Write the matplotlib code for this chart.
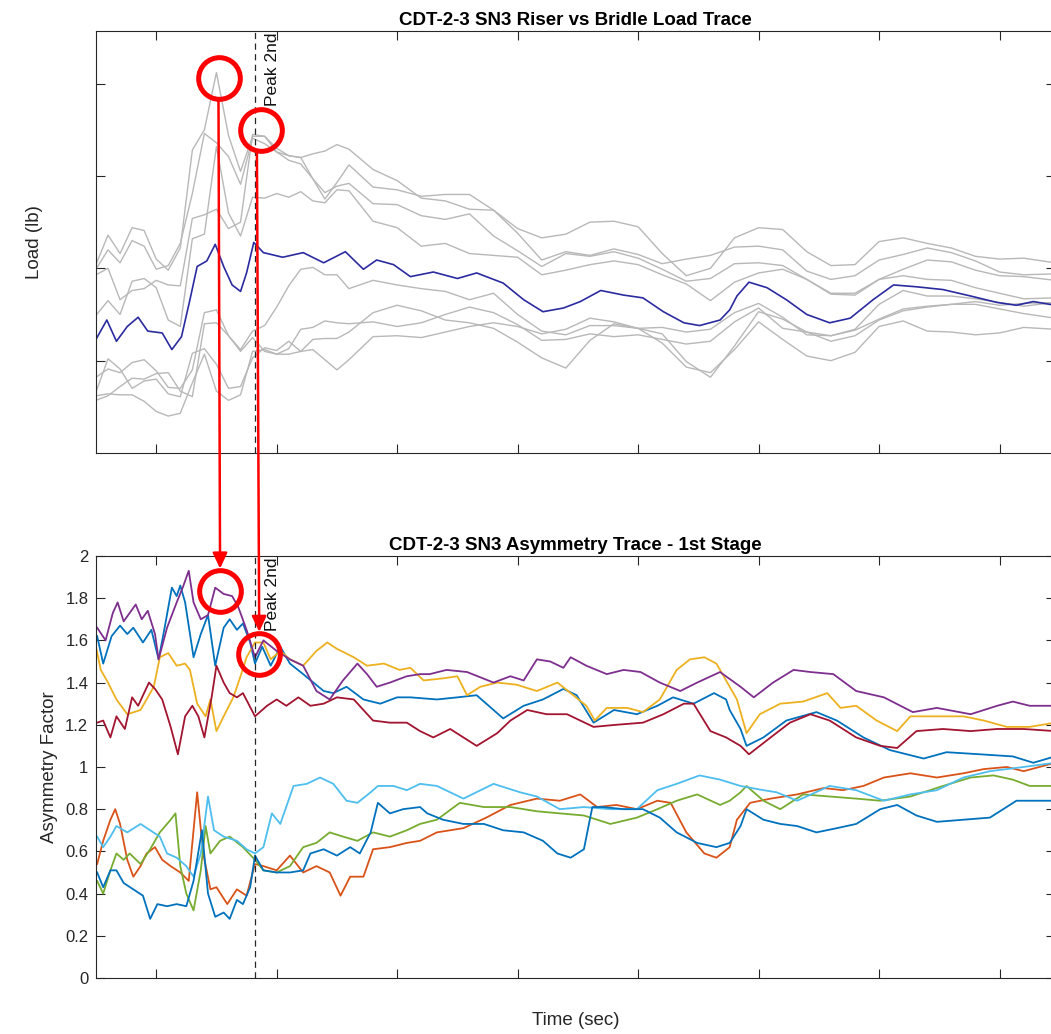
import matplotlib
matplotlib.use("Agg")
import matplotlib.pyplot as plt
from matplotlib.patches import ConnectionPatch
from matplotlib.ticker import FormatStrFormatter

plt.rcParams['font.family'] = ['Liberation Sans', 'DejaVu Sans']

# ---- top plot: riser / bridle loads (gray) on a common time grid
T = [-0.5, -0.4, -0.3, -0.2, -0.1, 0.0, 0.1, 0.2, 0.3, 0.4, 0.5, 0.6, 0.7, 0.8, 0.9, 1.0, 1.1, 1.2, 1.3, 1.4, 1.5, 1.6,
     1.8, 2.0, 2.2, 2.4, 2.6, 2.8, 3.0, 3.2, 3.4, 3.6, 3.8, 4.0, 4.2, 4.4, 4.6, 4.8, 5.0, 5.2, 5.4, 5.6, 5.8, 6.0,
     6.2, 6.4, 6.6, 6.8, 7.0, 7.2, 7.46]
load_a = [2.04, 2.36, 2.16, 2.44, 2.41, 2.10, 1.98, 2.22, 3.28, 3.50, 4.12, 3.44, 3.05, 3.43, 3.43, 3.30, 3.22, 3.20, 2.97, 2.75, 2.93, 3.12,
          2.88, 2.85, 2.78, 2.80, 2.80, 2.63, 2.43, 2.33, 2.37, 2.50, 2.51, 2.45, 2.16, 1.92, 2.00, 2.33, 2.44, 2.42, 2.18, 2.03, 2.04, 2.29,
          2.33, 2.27, 2.22, 2.13, 2.10, 2.11, 2.06]
load_b = [1.99, 2.20, 2.06, 2.30, 2.24, 1.99, 2.03, 2.27, 2.81, 3.46, 3.36, 3.21, 2.91, 3.41, 3.35, 3.26, 3.17, 3.13, 2.97, 2.82, 2.89, 2.92,
          2.70, 2.69, 2.57, 2.53, 2.59, 2.35, 2.19, 2.02, 2.16, 2.13, 2.18, 2.11, 1.99, 1.86, 1.89, 2.05, 2.06, 2.03, 1.88, 1.73, 1.73, 1.88,
          1.92, 1.88, 1.87, 1.79, 1.73, 1.67, 1.68]
load_c = [1.93, 2.00, 1.66, 1.76, 1.78, 1.87, 1.82, 1.81, 2.54, 2.58, 2.64, 2.43, 2.50, 3.45, 3.43, 3.26, 3.22, 3.20, 3.24, 3.27, 3.34, 3.29,
          3.07, 2.95, 2.76, 2.73, 2.64, 2.63, 2.38, 2.09, 2.18, 2.14, 2.21, 2.15, 2.05, 2.10, 2.14, 2.23, 2.24, 2.20, 1.97, 1.88, 1.92, 2.09,
          2.15, 2.22, 2.17, 2.08, 1.96, 1.93, 1.94]
load_d = [1.49, 1.65, 1.50, 1.86, 1.89, 1.79, 1.44, 1.37, 2.32, 2.37, 3.32, 2.60, 2.35, 2.77, 2.76, 2.81, 2.77, 2.83, 2.73, 2.71, 2.85, 2.84,
          2.51, 2.44, 2.24, 2.27, 2.16, 2.14, 2.12, 1.93, 1.98, 2.04, 2.08, 2.04, 1.93, 1.83, 1.65, 1.85, 1.95, 1.99, 1.88, 1.72, 1.71, 1.88,
          1.99, 2.09, 2.07, 1.98, 1.92, 1.91, 1.87]
load_e = [0.82, 0.91, 0.87, 0.98, 1.01, 0.89, 0.71, 0.70, 0.90, 1.52, 1.55, 1.27, 1.12, 1.32, 1.38, 1.58, 1.81, 1.99, 2.01, 1.93, 1.93, 1.78,
          1.87, 1.82, 1.78, 1.75, 1.66, 1.73, 1.50, 1.32, 1.28, 1.38, 1.38, 1.35, 1.36, 1.31, 1.34, 1.52, 1.62, 1.47, 1.28, 1.27, 1.33, 1.45,
          1.56, 1.59, 1.61, 1.64, 1.60, 1.62, 1.63]
load_f = [0.62, 0.64, 0.63, 0.63, 0.56, 0.45, 0.40, 0.43, 0.76, 1.07, 0.67, 0.57, 0.63, 1.10, 1.12, 1.07, 1.07, 1.10, 1.23, 1.24, 1.24, 1.31,
          1.52, 1.60, 1.54, 1.44, 1.41, 1.35, 1.20, 1.03, 0.92, 1.22, 1.40, 1.35, 1.19, 0.93, 0.87, 1.12, 1.42, 1.23, 1.05, 1.00, 1.09, 1.37,
          1.43, 1.32, 1.31, 1.28, 1.30, 1.36, 1.34]
load_g = [0.66, 1.02, 0.91, 0.70, 0.78, 0.80, 0.64, 0.61, 1.08, 1.13, 0.96, 0.70, 0.72, 1.03, 1.14, 1.11, 1.21, 1.10, 1.12, 1.01, 0.90, 1.01,
          1.26, 1.27, 1.25, 1.31, 1.37, 1.41, 1.37, 1.29, 1.34, 1.46, 1.42, 1.35, 1.29, 0.99, 0.82, 1.16, 1.53, 1.45, 1.31, 1.27, 1.34, 1.61,
          1.76, 1.70, 1.70, 1.67, 1.63, 1.59, 1.63]
load_h = [0.57, 0.62, 0.72, 0.81, 0.80, 0.86, 0.87, 0.67, 0.61, 1.40, 1.41, 1.27, 1.10, 1.25, 1.10, 1.07, 1.13, 1.34, 1.36, 1.43, 1.41, 1.40,
          1.42, 1.37, 1.41, 1.50, 1.58, 1.52, 1.39, 1.22, 1.23, 1.29, 1.26, 1.28, 1.23, 1.18, 1.21, 1.42, 1.57, 1.35, 1.31, 1.21, 1.27, 1.44,
          1.54, 1.58, 1.61, 1.61, 1.56, 1.51, 1.46]

# mean load (blue)
t_mean = [-0.50, -0.41, -0.33, -0.24, -0.15, -0.07, 0.05, 0.13, 0.21, 0.28, 0.34, 0.42, 0.49, 0.56, 0.63, 0.70, 0.75, 0.81, 0.89, 1.05,
          1.22, 1.39, 1.57, 1.72, 1.83, 1.97, 2.11, 2.30, 2.50, 2.66, 2.88, 3.05, 3.21, 3.38, 3.52, 3.69, 3.88, 4.04, 4.21, 4.38, 4.51,
          4.68, 4.76, 4.82, 4.92, 5.07, 5.23, 5.40, 5.59, 5.76, 5.95, 6.12, 6.31, 6.53, 6.76, 6.98, 7.14, 7.28, 7.46]
load_mean = [1.23, 1.44, 1.21, 1.37, 1.47, 1.32, 1.30, 1.12, 1.26, 1.66, 2.02, 2.08, 2.26, 2.02, 1.82, 1.75, 1.95, 2.28, 2.17, 2.12,
             2.17, 2.06, 2.18, 1.99, 2.09, 2.04, 1.91, 1.96, 1.89, 1.95, 1.84, 1.66, 1.53, 1.57, 1.64, 1.76, 1.71, 1.68, 1.53, 1.41, 1.38,
             1.44, 1.55, 1.70, 1.85, 1.79, 1.66, 1.50, 1.41, 1.46, 1.66, 1.82, 1.80, 1.77, 1.70, 1.63, 1.60, 1.64, 1.60]

# ---- bottom plot: asymmetry factor per channel
t_purple = [-0.49, -0.42, -0.36, -0.32, -0.27, -0.17, -0.12, -0.07, -0.01, 0.02, 0.09, 0.17, 0.22, 0.27, 0.31, 0.37, 0.43, 0.49, 0.56,
            0.63, 0.68, 0.75, 0.82, 0.89, 1.00, 1.11, 1.22, 1.33, 1.44, 1.55, 1.67, 1.75, 1.83, 1.94, 2.08, 2.19, 2.27, 2.41, 2.58, 2.80,
            2.94, 3.05, 3.16, 3.27, 3.38, 3.44, 3.57, 3.74, 3.88, 4.02, 4.18, 4.35, 4.49, 4.68, 4.85, 4.96, 5.12, 5.29, 5.43, 5.62, 5.81,
            6.04, 6.28, 6.48, 6.76, 6.98, 7.11, 7.25, 7.46]
asym_purple = [1.66, 1.60, 1.73, 1.78, 1.69, 1.77, 1.70, 1.74, 1.63, 1.51, 1.66, 1.78, 1.85, 1.93, 1.78, 1.70, 1.72, 1.85, 1.82,
               1.81, 1.76, 1.65, 1.52, 1.60, 1.55, 1.51, 1.48, 1.36, 1.32, 1.41, 1.49, 1.44, 1.38, 1.40, 1.43, 1.44, 1.44, 1.46, 1.45, 1.40,
               1.43, 1.41, 1.51, 1.50, 1.47, 1.52, 1.48, 1.44, 1.46, 1.45, 1.40, 1.36, 1.40, 1.45, 1.38, 1.33, 1.40, 1.46, 1.45, 1.44, 1.36,
               1.33, 1.26, 1.28, 1.25, 1.29, 1.31, 1.29, 1.29]

t_blue_hi = [-0.49, -0.44, -0.37, -0.30, -0.24, -0.19, -0.11, -0.04, 0.02, 0.07, 0.13, 0.17, 0.20, 0.24, 0.31, 0.37, 0.43, 0.49, 0.56,
             0.61, 0.67, 0.72, 0.78, 0.82, 0.88, 0.95, 1.03, 1.11, 1.22, 1.39, 1.47, 1.58, 1.72, 1.86, 2.00, 2.11, 2.33, 2.50, 2.66, 2.88,
             3.05, 3.21, 3.38, 3.49, 3.63, 3.80, 3.99, 4.16, 4.29, 4.46, 4.63, 4.73, 4.76, 4.85, 4.90, 5.04, 5.23, 5.48, 5.65, 5.87, 6.09,
             6.37, 6.56, 6.84, 7.11, 7.28, 7.46]
asym_blue_hi = [1.62, 1.49, 1.62, 1.67, 1.63, 1.66, 1.59, 1.65, 1.51, 1.66, 1.85, 1.81, 1.86, 1.78, 1.52, 1.63, 1.72, 1.48, 1.66,
                1.70, 1.65, 1.68, 1.59, 1.49, 1.57, 1.48, 1.57, 1.49, 1.44, 1.36, 1.35, 1.38, 1.32, 1.30, 1.33, 1.33, 1.32, 1.33, 1.34, 1.23,
                1.29, 1.32, 1.37, 1.34, 1.21, 1.27, 1.25, 1.29, 1.33, 1.30, 1.35, 1.32, 1.27, 1.18, 1.10, 1.14, 1.22, 1.26, 1.22, 1.14, 1.08,
                1.04, 1.07, 1.06, 1.05, 1.02, 1.05]

t_yellow = [-0.50, -0.46, -0.40, -0.33, -0.24, -0.13, -0.02, 0.03, 0.10, 0.17, 0.24, 0.28, 0.34, 0.41, 0.45, 0.50, 0.56, 0.64, 0.70,
            0.75, 0.82, 0.89, 0.95, 1.03, 1.11, 1.22, 1.33, 1.42, 1.50, 1.64, 1.75, 1.89, 2.02, 2.11, 2.22, 2.38, 2.50, 2.58, 2.69, 2.83,
            2.99, 3.16, 3.33, 3.44, 3.57, 3.64, 3.74, 3.91, 4.04, 4.18, 4.32, 4.43, 4.55, 4.65, 4.76, 4.82, 4.90, 5.01, 5.18, 5.37, 5.57,
            5.68, 5.81, 5.98, 6.15, 6.26, 6.48, 6.70, 6.87, 7.06, 7.25, 7.46]
asym_yellow = [1.57, 1.46, 1.40, 1.32, 1.25, 1.27, 1.38, 1.52, 1.54, 1.48, 1.49, 1.46, 1.30, 1.24, 1.32, 1.17, 1.24, 1.33, 1.43,
               1.52, 1.59, 1.59, 1.51, 1.55, 1.51, 1.48, 1.55, 1.59, 1.56, 1.52, 1.48, 1.49, 1.46, 1.47, 1.41, 1.42, 1.43, 1.34, 1.38, 1.40,
               1.39, 1.36, 1.40, 1.35, 1.29, 1.22, 1.28, 1.28, 1.26, 1.32, 1.46, 1.51, 1.52, 1.49, 1.38, 1.32, 1.16, 1.25, 1.30, 1.31, 1.35,
               1.28, 1.29, 1.22, 1.17, 1.24, 1.24, 1.24, 1.22, 1.19, 1.19, 1.21]

t_darkred = [-0.49, -0.44, -0.38, -0.33, -0.26, -0.20, -0.15, -0.06, -0.01, 0.05, 0.12, 0.18, 0.24, 0.30, 0.35, 0.40, 0.46, 0.50, 0.56,
             0.61, 0.67, 0.72, 0.82, 0.92, 1.00, 1.08, 1.18, 1.28, 1.39, 1.50, 1.64, 1.80, 1.94, 2.08, 2.19, 2.30, 2.44, 2.66, 2.83, 2.94,
             3.08, 3.24, 3.41, 3.63, 3.82, 4.04, 4.21, 4.38, 4.46, 4.60, 4.73, 4.85, 4.92, 5.10, 5.26, 5.43, 5.59, 5.81, 6.01, 6.15, 6.31,
             6.53, 6.76, 6.98, 7.20, 7.46]
asym_darkred = [1.21, 1.22, 1.14, 1.24, 1.18, 1.33, 1.29, 1.40, 1.37, 1.32, 1.19, 1.06, 1.24, 1.29, 1.24, 1.14, 1.33, 1.48, 1.40,
                1.35, 1.33, 1.35, 1.24, 1.29, 1.32, 1.29, 1.33, 1.29, 1.30, 1.33, 1.32, 1.22, 1.21, 1.21, 1.17, 1.14, 1.18, 1.10, 1.16, 1.22,
                1.27, 1.25, 1.25, 1.19, 1.20, 1.21, 1.25, 1.30, 1.30, 1.17, 1.14, 1.10, 1.06, 1.14, 1.21, 1.25, 1.22, 1.14, 1.10, 1.09, 1.17,
                1.18, 1.17, 1.18, 1.18, 1.17]

t_cyan = [-0.49, -0.44, -0.38, -0.33, -0.24, -0.13, -0.05, 0.03, 0.09, 0.17, 0.25, 0.31, 0.37, 0.43, 0.48, 0.56, 0.67, 0.75, 0.82,
          0.89, 0.96, 1.03, 1.14, 1.25, 1.36, 1.47, 1.58, 1.67, 1.78, 1.84, 1.97, 2.08, 2.19, 2.33, 2.55, 2.80, 3.02, 3.16, 3.35, 3.55,
          3.77, 3.99, 4.16, 4.32, 4.51, 4.68, 4.85, 5.04, 5.15, 5.32, 5.59, 5.81, 6.04, 6.26, 6.48, 6.70, 6.92, 7.20, 7.46]
asym_cyan = [0.67, 0.62, 0.67, 0.72, 0.69, 0.73, 0.70, 0.67, 0.59, 0.57, 0.53, 0.48, 0.59, 0.86, 0.70, 0.67, 0.65, 0.61, 0.59,
             0.62, 0.78, 0.73, 0.91, 0.92, 0.95, 0.92, 0.84, 0.83, 0.88, 0.91, 0.91, 0.89, 0.92, 0.91, 0.85, 0.92, 0.88, 0.86, 0.80, 0.81,
             0.80, 0.80, 0.89, 0.92, 0.96, 0.94, 0.91, 0.89, 0.88, 0.84, 0.91, 0.89, 0.84, 0.87, 0.89, 0.95, 0.98, 1.00, 1.02]

t_blue_lo = [-0.49, -0.44, -0.38, -0.33, -0.27, -0.19, -0.11, -0.05, 0.01, 0.09, 0.17, 0.25, 0.31, 0.38, 0.43, 0.49, 0.56, 0.61, 0.67,
             0.72, 0.78, 0.82, 0.89, 1.00, 1.11, 1.22, 1.28, 1.39, 1.50, 1.61, 1.69, 1.78, 1.84, 1.94, 2.05, 2.19, 2.25, 2.38, 2.55, 2.72,
             2.88, 3.05, 3.21, 3.33, 3.44, 3.55, 3.62, 3.71, 3.88, 4.04, 4.18, 4.32, 4.49, 4.65, 4.76, 4.85, 4.90, 5.04, 5.18, 5.32, 5.48,
             5.65, 5.81, 6.01, 6.15, 6.31, 6.48, 6.70, 6.92, 7.14, 7.31, 7.46]
asym_blue_lo = [0.50, 0.43, 0.51, 0.51, 0.45, 0.42, 0.39, 0.28, 0.35, 0.34, 0.35, 0.34, 0.46, 0.70, 0.40, 0.29, 0.31, 0.28, 0.37,
                0.35, 0.43, 0.58, 0.51, 0.50, 0.50, 0.51, 0.59, 0.61, 0.58, 0.62, 0.59, 0.69, 0.83, 0.78, 0.80, 0.81, 0.78, 0.75, 0.73, 0.73,
                0.70, 0.69, 0.65, 0.59, 0.57, 0.61, 0.81, 0.81, 0.80, 0.80, 0.76, 0.69, 0.64, 0.62, 0.64, 0.72, 0.80, 0.75, 0.73, 0.72, 0.69,
                0.71, 0.73, 0.80, 0.82, 0.77, 0.74, 0.75, 0.76, 0.84, 0.84, 0.84]

t_orange = [-0.49, -0.44, -0.38, -0.34, -0.30, -0.24, -0.19, -0.13, -0.08, -0.01, 0.05, 0.12, 0.20, 0.27, 0.34, 0.39, 0.45, 0.50, 0.59,
            0.67, 0.75, 0.82, 0.89, 1.00, 1.11, 1.22, 1.33, 1.44, 1.53, 1.61, 1.72, 1.80, 1.94, 2.08, 2.19, 2.33, 2.55, 2.74, 2.94, 3.16,
            3.35, 3.52, 3.66, 3.82, 3.99, 4.16, 4.27, 4.40, 4.55, 4.65, 4.76, 4.82, 4.93, 5.10, 5.32, 5.54, 5.70, 5.87, 6.04, 6.26, 6.48,
            6.70, 6.87, 7.06, 7.20, 7.46]
asym_orange = [0.54, 0.65, 0.75, 0.80, 0.73, 0.56, 0.48, 0.53, 0.59, 0.62, 0.56, 0.53, 0.50, 0.46, 0.88, 0.59, 0.42, 0.43, 0.35,
               0.42, 0.39, 0.54, 0.53, 0.51, 0.58, 0.50, 0.53, 0.50, 0.39, 0.48, 0.48, 0.61, 0.62, 0.64, 0.65, 0.69, 0.71, 0.76, 0.82, 0.85,
               0.84, 0.87, 0.81, 0.82, 0.80, 0.84, 0.83, 0.69, 0.59, 0.57, 0.62, 0.75, 0.83, 0.85, 0.87, 0.90, 0.89, 0.91, 0.95, 0.97, 0.95,
               0.97, 0.99, 1.00, 0.98, 1.02]

t_green = [-0.49, -0.44, -0.38, -0.33, -0.27, -0.22, -0.13, -0.05, 0.03, 0.12, 0.16, 0.20, 0.25, 0.31, 0.37, 0.41, 0.45, 0.53, 0.61,
           0.72, 0.82, 0.89, 1.00, 1.11, 1.22, 1.33, 1.44, 1.55, 1.67, 1.80, 1.94, 2.08, 2.19, 2.33, 2.52, 2.72, 2.94, 3.16, 3.35, 3.55,
           3.77, 3.99, 4.16, 4.32, 4.49, 4.68, 4.76, 4.85, 4.90, 5.04, 5.18, 5.37, 5.59, 5.81, 6.01, 6.26, 6.53, 6.76, 6.95, 7.11, 7.25,
           7.46]
asym_green = [0.46, 0.40, 0.51, 0.59, 0.56, 0.59, 0.54, 0.61, 0.69, 0.75, 0.78, 0.53, 0.40, 0.32, 0.51, 0.72, 0.59, 0.65, 0.67,
              0.62, 0.56, 0.51, 0.50, 0.53, 0.62, 0.64, 0.69, 0.67, 0.65, 0.69, 0.67, 0.70, 0.73, 0.75, 0.83, 0.81, 0.81, 0.79, 0.78, 0.77,
              0.73, 0.76, 0.80, 0.84, 0.87, 0.82, 0.84, 0.88, 0.91, 0.84, 0.80, 0.87, 0.86, 0.85, 0.84, 0.86, 0.91, 0.95, 0.96, 0.94, 0.91,
              0.91]

peak_2nd = 0.82
# red markup: circles (1st peak, 2nd peak) and arrows between the panels
circ_top = [(0.52, 4.06), (0.87, 3.50)]
circ_bot = [(0.53, 1.835), (0.855, 1.536)]
arrow_from = [(0.517, 3.81), (0.836, 3.26)]
arrow_to = [(0.53, 1.94), (0.855, 1.64)]

dark = '#262626'

fig = plt.figure(figsize=(10.51, 10.34), dpi=100, facecolor='white')
ax1 = fig.add_axes([0.0913, 0.5619, 0.9125, 0.4081])
ax2 = fig.add_axes([0.0913, 0.0542, 0.9125, 0.4081])

for g in [load_a, load_b, load_c, load_d, load_e, load_f, load_g, load_h]:
    ax1.plot(T, g, color='#b8b8b8', lw=1.0)
ax1.plot(t_mean, load_mean, color='#2b2ba0', lw=1.2)

series = [(t_blue_hi, asym_blue_hi, '#0072BD'), (t_orange, asym_orange, '#D95319'),
          (t_yellow, asym_yellow, '#EDB120'), (t_purple, asym_purple, '#7E2F8E'),
          (t_green, asym_green, '#77AC30'), (t_cyan, asym_cyan, '#4DBEEE'),
          (t_darkred, asym_darkred, '#A2142F'), (t_blue_lo, asym_blue_lo, '#0072BD')]
for t, a, c in series:
    ax2.plot(t, a, color=c, lw=1.3)

ax1.set_ylim(0, 4.57)
ax1.set_yticks([1, 2, 3, 4])
ax1.set_yticklabels([])
ax2.set_ylim(0, 2)
ax2.set_yticks([0, 0.2, 0.4, 0.6, 0.8, 1, 1.2, 1.4, 1.6, 1.8, 2])
ax2.yaxis.set_major_formatter(FormatStrFormatter('%g'))

for ax in (ax1, ax2):
    ax.set_xlim(-0.5, 7.46)
    ax.set_xticks(range(0, 8))
    ax.set_xticklabels([])
    ax.tick_params(direction='in', length=6.5, width=0.8, top=True, right=True,
                   colors=dark, labelsize=12, pad=5.5)
    for s in ax.spines.values():
        s.set_color(dark)
        s.set_linewidth(0.8)
    ax.axvline(peak_2nd, color=dark, ls=(0, (5, 3.5)), lw=0.9)
    ax.text(0.9, 0.997, 'Peak 2nd', rotation=90, ha='left', va='top', fontsize=12.5,
            color='#111111', transform=ax.get_xaxis_transform())

ax1.set_title('CDT-2-3 SN3 Riser vs Bridle Load Trace', fontsize=13.5, fontweight='bold', pad=4)
ax2.set_title('CDT-2-3 SN3 Asymmetry Trace - 1st Stage', fontsize=13.5, fontweight='bold', pad=4)
ax1.set_ylabel('Load (lb)', fontsize=13.5, color=dark)
ax1.yaxis.set_label_coords(-0.055, 0.5)
ax2.set_ylabel('Asymmetry Factor', fontsize=13.5, color=dark)
ax2.yaxis.set_label_coords(-0.040, 0.5)
ax2.set_xlabel('Time (sec)', fontsize=13.5, color=dark)
ax2.xaxis.set_label_coords(0.5, -0.081)

for (x, y) in circ_top:
    ax1.plot(x, y, 'o', ms=30, mfc='none', mec='red', mew=3.6, clip_on=False, zorder=10)
for (x, y) in circ_bot:
    ax2.plot(x, y, 'o', ms=30, mfc='none', mec='red', mew=3.6, clip_on=False, zorder=10)

for a, b in zip(arrow_from, arrow_to):
    con = ConnectionPatch(xyA=a, coordsA=ax1.transData, xyB=b, coordsB=ax2.transData,
                          arrowstyle='-|>,head_length=0.47,head_width=0.22', mutation_scale=20,
                          color='red', lw=1.8, shrinkA=0, shrinkB=0, zorder=20)
    fig.add_artist(con)

plt.savefig('out.png', dpi=100, facecolor='white')
